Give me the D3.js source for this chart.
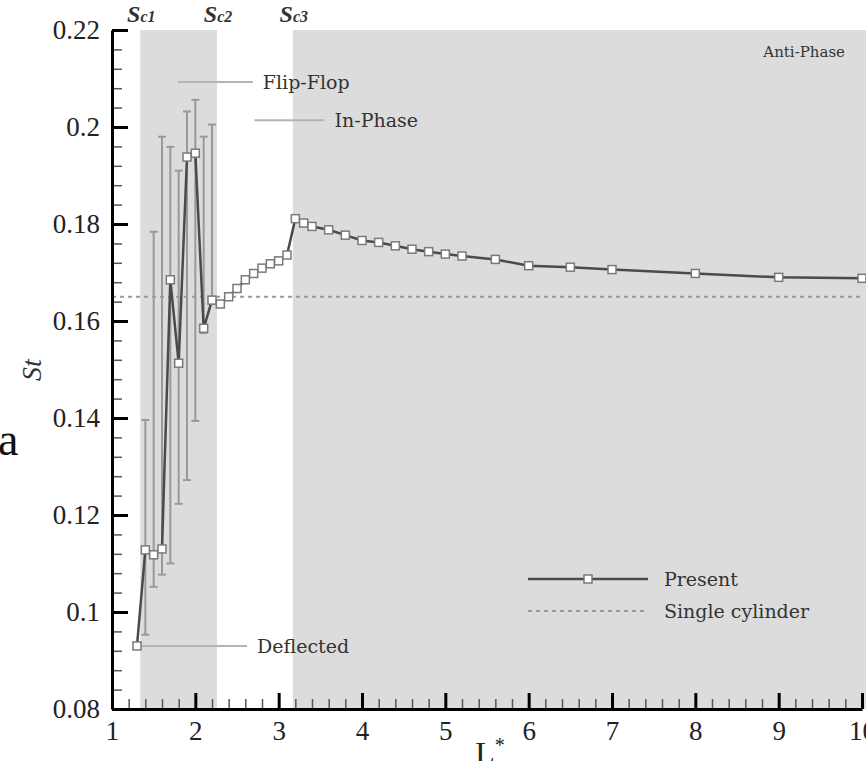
<!DOCTYPE html>
<html>
<head>
<meta charset="utf-8">
<script src="https://cdn.jsdelivr.net/npm/d3@7"></script>
<style>
  body { margin: 0; background: #fff; }
  svg { display: block; }
</style>
</head>
<body>
<script>
/*global d3*/

var width = 866, height = 761;

// data
var gapL = [1.3, 1.4, 1.5, 1.6, 1.7, 1.8, 1.9, 2.0, 2.1, 2.2,
            2.3, 2.4, 2.5, 2.6, 2.7, 2.8, 2.9, 3.0, 3.1,
            3.2, 3.3, 3.4, 3.6, 3.8, 4.0, 4.2, 4.4, 4.6, 4.8, 5.0, 5.2, 5.6, 6.0, 6.5, 7, 8, 9, 10];
var stValues = [0.093, 0.1128, 0.1118, 0.113, 0.1685, 0.1513, 0.1938, 0.1946, 0.1585, 0.1643,
                0.1635, 0.165, 0.1667, 0.1685, 0.1698, 0.1709, 0.1718, 0.1724, 0.1736,
                0.1811, 0.1802, 0.1795, 0.1788, 0.1777, 0.1766, 0.1762, 0.1755, 0.1748, 0.1743, 0.1738, 0.1734, 0.1727, 0.1714, 0.1711, 0.1706, 0.1698, 0.169, 0.1688];
// error bar ranges (only in the unsteady region)
var errL    = [1.4, 1.5, 1.6, 1.7, 1.8, 1.9, 2.0, 2.1, 2.2];
var errLow  = [0.0953, 0.1052, 0.1077, 0.110, 0.1223, 0.1272, 0.1394, 0.1575, 0.1635];
var errHigh = [0.1396, 0.1784, 0.198, 0.1959, 0.191, 0.2032, 0.2056, 0.198, 0.2005];

var singleCylinder = 0.165;
var criticalL = [1.34, 2.26, 3.17];
var criticalNames = ["c1", "c2", "c3"];
var xTicks = [1, 2, 3, 4, 5, 6, 7, 8, 9, 10];
var yTicks = [0.08, 0.1, 0.12, 0.14, 0.16, 0.18, 0.2, 0.22];

var serif = "'Liberation Serif', 'Times New Roman', serif";
var labelFont = "'DejaVu Serif', serif";

var svg = d3.select("body").append("svg")
    .attr("width", width)
    .attr("height", height);

var x = d3.scaleLinear().domain([1, 10]).range([112, 862]);
var y = d3.scaleLinear().domain([0.08, 0.22]).range([709, 30]);

// shaded regimes
svg.append("rect")
    .attr("x", x(criticalL[0])).attr("y", y(0.22))
    .attr("width", x(criticalL[1]) - x(criticalL[0]))
    .attr("height", y(0.08) - y(0.22))
    .attr("fill", "#dcdcdc");
svg.append("rect")
    .attr("x", x(criticalL[2])).attr("y", y(0.22))
    .attr("width", width - x(criticalL[2]))
    .attr("height", y(0.08) - y(0.22))
    .attr("fill", "#dcdcdc");

// single cylinder line
svg.append("line")
    .attr("x1", x(1)).attr("x2", x(10))
    .attr("y1", y(singleCylinder)).attr("y2", y(singleCylinder))
    .attr("stroke", "#9a9a9a")
    .attr("stroke-width", 2)
    .attr("stroke-dasharray", "4,4");

// annotation leader lines
var leaders = [
  {x1: 1.79, x2: 2.69, v: 0.2093, text: "Flip-Flop"},
  {x1: 2.71, x2: 3.55, v: 0.2014, text: "In-Phase"},
  {x1: 1.36, x2: 2.62, v: 0.093, text: "Deflected"}
];
leaders.forEach(function(d) {
  svg.append("line")
      .attr("x1", x(d.x1)).attr("x2", x(d.x2))
      .attr("y1", y(d.v)).attr("y2", y(d.v))
      .attr("stroke", "#b4b4b4")
      .attr("stroke-width", 2);
  svg.append("text")
      .attr("x", x(d.x2) + 10).attr("y", y(d.v))
      .attr("dy", "0.35em")
      .attr("font-family", labelFont)
      .attr("font-size", 19)
      .attr("fill", "#333")
      .text(d.text);
});

svg.append("text")
    .attr("x", 845).attr("y", 57)
    .attr("text-anchor", "end")
    .attr("font-family", labelFont)
    .attr("font-size", 15)
    .attr("fill", "#333")
    .text("Anti-Phase");

// error bars
var err = svg.append("g").attr("stroke", "#999").attr("stroke-width", 2);
errL.forEach(function(l, i) {
  err.append("line")
      .attr("x1", x(l)).attr("x2", x(l))
      .attr("y1", y(errLow[i])).attr("y2", y(errHigh[i]));
  [errLow[i], errHigh[i]].forEach(function(v) {
    err.append("line")
        .attr("x1", x(l) - 4).attr("x2", x(l) + 4)
        .attr("y1", y(v)).attr("y2", y(v));
  });
});

// Present line
var pts = gapL.map(function(l, i) { return [l, stValues[i]]; });
svg.append("path")
    .datum(pts)
    .attr("fill", "none")
    .attr("stroke", "#4a4a4a")
    .attr("stroke-width", 2.5)
    .attr("d", d3.line().x(function(d) { return x(d[0]); }).y(function(d) { return y(d[1]); }));

svg.append("g").selectAll("rect")
    .data(pts)
    .join("rect")
    .attr("x", function(d) { return x(d[0]) - 4; })
    .attr("y", function(d) { return y(d[1]) - 4; })
    .attr("width", 8).attr("height", 8)
    .attr("fill", "#fff")
    .attr("stroke", "#7a7a7a")
    .attr("stroke-width", 1.5);

// axes: ticks point inward
var minorX = d3.range(1, 10.001, 0.2);
var minorY = d3.range(0.08, 0.2201, 0.004);

var xMinor = svg.append("g").attr("transform", "translate(0," + y(0.08) + ")")
    .call(d3.axisBottom(x).tickValues(minorX).tickSize(-10).tickFormat(""));
xMinor.select(".domain").remove();
xMinor.selectAll("line").attr("stroke", "#555").attr("stroke-width", 1.5);

var yMinor = svg.append("g").attr("transform", "translate(" + x(1) + ",0)")
    .call(d3.axisLeft(y).tickValues(minorY).tickSize(-10).tickFormat(""));
yMinor.select(".domain").remove();
yMinor.selectAll("line").attr("stroke", "#555").attr("stroke-width", 1.5);

var xAxis = svg.append("g").attr("transform", "translate(0," + y(0.08) + ")")
    .call(d3.axisBottom(x).tickValues(xTicks).tickSize(-16).tickPadding(12).tickSizeOuter(0).tickFormat(d3.format("d")));
xAxis.select(".domain").attr("stroke", "#000").attr("stroke-width", 3);
xAxis.selectAll("line").attr("stroke", "#000").attr("stroke-width", 3);
xAxis.selectAll("text")
    .attr("font-family", serif).attr("font-size", 27).attr("fill", "#222");

var yAxis = svg.append("g").attr("transform", "translate(" + x(1) + ",0)")
    .call(d3.axisLeft(y).tickValues(yTicks).tickSize(-16).tickPadding(12).tickSizeOuter(0)
      .tickFormat(function(d) { return d3.format(".2~f")(d); }));
yAxis.select(".domain").attr("stroke", "#000").attr("stroke-width", 3);
yAxis.selectAll("line").attr("stroke", "#000").attr("stroke-width", 3);
yAxis.selectAll("text")
    .attr("font-family", serif).attr("font-size", 27).attr("fill", "#222");

// axis titles
svg.append("text")
    .attr("transform", "translate(41,370) rotate(-90)")
    .attr("text-anchor", "middle")
    .attr("font-family", serif).attr("font-style", "italic")
    .attr("font-size", 28).attr("fill", "#333")
    .text("St");

var xTitle = svg.append("text")
    .attr("x", 490).attr("y", 764)
    .attr("text-anchor", "middle")
    .attr("font-family", serif)
    .attr("font-size", 32).attr("fill", "#222");
xTitle.append("tspan").text("L");
xTitle.append("tspan").attr("font-size", 20).attr("dy", -12).text("*");

// stray letter from page text at the left edge
svg.append("text")
    .attr("x", -2).attr("y", 455)
    .attr("font-family", serif)
    .attr("font-size", 46).attr("fill", "#111")
    .text("a");

// critical spacing labels
criticalL.forEach(function(l, i) {
  var t = svg.append("text")
      .attr("x", x(l) + 1).attr("y", 22)
      .attr("text-anchor", "middle")
      .attr("font-family", serif).attr("font-style", "italic").attr("font-weight", "bold")
      .attr("font-size", 24).attr("fill", "#333");
  t.append("tspan").text("S");
  t.append("tspan").attr("font-size", 16).text(criticalNames[i]);
});

// legend
var legend = svg.append("g");
legend.append("line")
    .attr("x1", 528).attr("x2", 648).attr("y1", 579).attr("y2", 579)
    .attr("stroke", "#4a4a4a").attr("stroke-width", 2.5);
legend.append("rect")
    .attr("x", 584).attr("y", 575).attr("width", 8).attr("height", 8)
    .attr("fill", "#fff").attr("stroke", "#7a7a7a").attr("stroke-width", 1.5);
legend.append("line")
    .attr("x1", 528).attr("x2", 648).attr("y1", 611).attr("y2", 611)
    .attr("stroke", "#9a9a9a").attr("stroke-width", 2).attr("stroke-dasharray", "4,4");
legend.append("text")
    .attr("x", 664).attr("y", 579).attr("dy", "0.35em")
    .attr("font-family", labelFont).attr("font-size", 19).attr("fill", "#333")
    .text("Present");
legend.append("text")
    .attr("x", 664).attr("y", 611).attr("dy", "0.35em")
    .attr("font-family", labelFont).attr("font-size", 19).attr("fill", "#333")
    .text("Single cylinder");
</script>
</body>
</html>
